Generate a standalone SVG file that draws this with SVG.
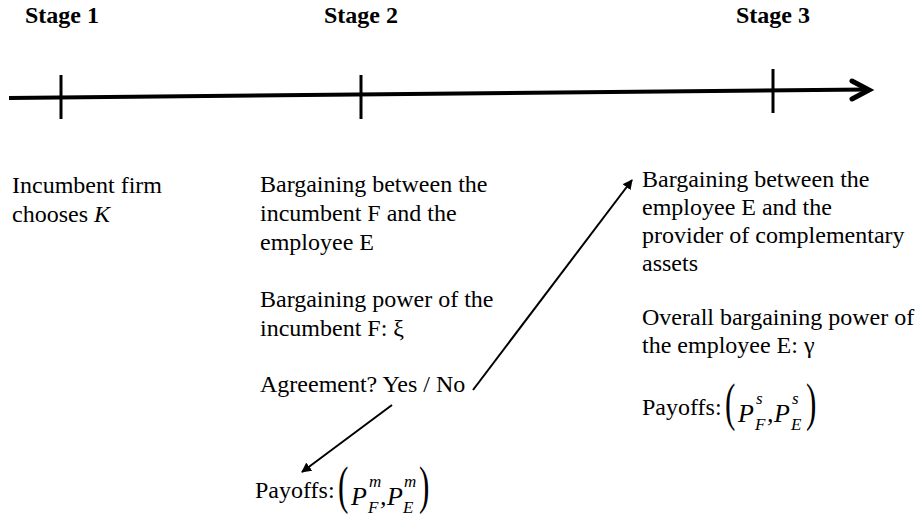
<svg xmlns="http://www.w3.org/2000/svg" width="918" height="518" viewBox="0 0 918 518">
  <defs>
    <style>
      .t { font-family: "Liberation Serif", "Times New Roman", Tinos, "DejaVu Serif", serif; font-size: 24px; fill: #000; }
      .h { font-family: "Liberation Serif", "Times New Roman", Tinos, "DejaVu Serif", serif; font-size: 24px; font-weight: bold; fill: #000; }
      .mi { font-family: "Liberation Serif", "Times New Roman", Tinos, "DejaVu Serif", serif; font-style: italic; font-size: 26px; fill: #000; }
      .ms { font-family: "Liberation Serif", "Times New Roman", Tinos, "DejaVu Serif", serif; font-style: italic; font-size: 17px; fill: #000; }
      .mp { font-family: "Liberation Serif", "Times New Roman", Tinos, "DejaVu Serif", serif; font-size: 52px; fill: #000; }
      .tick { stroke: #000; stroke-width: 3; }
      .conn { stroke: #000; stroke-width: 2; fill: none; }
    </style>
    <marker id="ah" viewBox="0 0 10 10" refX="9" refY="5" markerWidth="5" markerHeight="5" orient="auto" markerUnits="strokeWidth">
      <path d="M0,0 L10,5 L0,10 z" fill="#000"/>
    </marker>
  </defs>
  <rect width="918" height="518" fill="#fff"/>

  <g id="timeline">
    <line x1="9" y1="98" x2="868" y2="89.5" stroke="#000" stroke-width="4"/>
    <polyline points="852,81 869,90 852,99" fill="none" stroke="#000" stroke-width="5" stroke-linecap="round" stroke-linejoin="miter"/>
    <line class="tick" x1="61" y1="75" x2="61" y2="119"/>
    <line class="tick" x1="361" y1="75" x2="361" y2="119"/>
    <line class="tick" x1="773" y1="69" x2="773" y2="113"/>
  </g>

  <g id="stage1">
    <text class="h" x="25" y="23">Stage 1</text>
    <text class="t" x="12" y="193">Incumbent firm</text>
    <text class="t" x="12" y="222">chooses <tspan font-style="italic">K</tspan></text>
  </g>

  <g id="stage2">
    <text class="h" x="324" y="23">Stage 2</text>
    <text class="t" x="260" y="192">Bargaining between the</text>
    <text class="t" x="260" y="221">incumbent F and the</text>
    <text class="t" x="260" y="250">employee E</text>
    <text class="t" x="260" y="307">Bargaining power of the</text>
    <text class="t" x="260" y="336">incumbent F: ξ</text>
    <text class="t" x="260" y="392">Agreement? Yes / No</text>
  </g>

  <g id="payoffs-m">
    <text class="t" x="255" y="498">Payoffs:</text>
    <text class="mp" transform="translate(338,503) scale(0.6,1)">(</text>
    <text class="mi" x="351" y="505">P</text>
    <text class="ms" x="369" y="487">m</text>
    <text class="ms" x="368" y="513">F</text>
    <text class="mi" x="380" y="505">,</text>
    <text class="mi" x="387" y="505">P</text>
    <text class="ms" x="404" y="487">m</text>
    <text class="ms" x="403" y="513">E</text>
    <text class="mp" transform="translate(419,503) scale(0.6,1)">)</text>
  </g>

  <g id="stage3">
    <text class="h" x="736" y="23">Stage 3</text>
    <text class="t" x="642" y="187">Bargaining between the</text>
    <text class="t" x="642" y="215">employee E and the</text>
    <text class="t" x="642" y="243">provider of complementary</text>
    <text class="t" x="642" y="271">assets</text>
    <text class="t" x="642" y="325">Overall bargaining power of</text>
    <text class="t" x="642" y="353">the employee E: γ</text>
  </g>

  <g id="payoffs-s">
    <text class="t" x="642" y="415">Payoffs:</text>
    <text class="mp" transform="translate(725,420) scale(0.6,1)">(</text>
    <text class="mi" x="738" y="422">P</text>
    <text class="ms" x="756" y="404">s</text>
    <text class="ms" x="755" y="430">F</text>
    <text class="mi" x="767" y="422">,</text>
    <text class="mi" x="774" y="422">P</text>
    <text class="ms" x="792" y="404">s</text>
    <text class="ms" x="791" y="430">E</text>
    <text class="mp" transform="translate(806,420) scale(0.6,1)">)</text>
  </g>

  <g id="connectors">
    <line class="conn" x1="392" y1="405" x2="302" y2="472" marker-end="url(#ah)"/>
    <line class="conn" x1="473" y1="390" x2="632" y2="180" marker-end="url(#ah)"/>
  </g>
</svg>
